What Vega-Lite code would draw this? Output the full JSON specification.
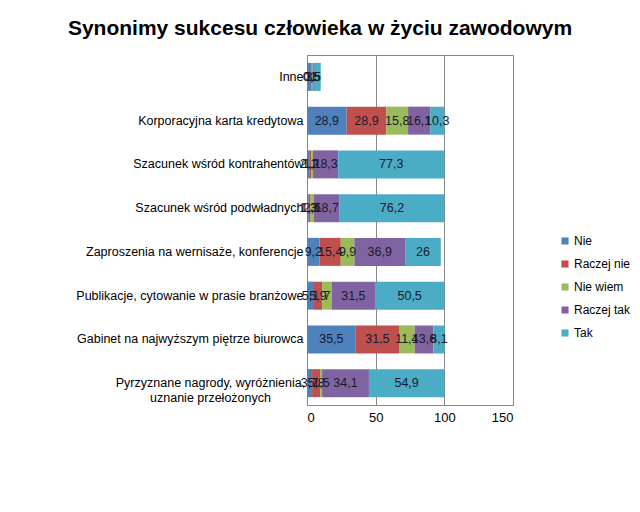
{
  "$schema": "https://vega.github.io/schema/vega-lite/v6.json",
  "autosize": {"type": "none"},
  "width": 206,
  "height": 350,
  "padding": {"left": 307, "top": 55, "right": 127, "bottom": 107},
  "background": "white",
  "title": {
    "text": "Synonimy sukcesu człowieka w życiu zawodowym",
    "fontSize": 21,
    "font": "Liberation Sans Narrow, Liberation Sans, Arial",
    "fontWeight": "bold",
    "color": "black",
    "anchor": "middle",
    "dx": -90,
    "offset": 16
  },
  "data": {
    "values": [
      {"k": "Inne", "s": "Nie", "o": 1, "v": 3},
      {"k": "Inne", "s": "Raczej nie", "o": 2, "v": 0.5},
      {"k": "Inne", "s": "Nie wiem", "o": 3, "v": 0.5},
      {"k": "Inne", "s": "Raczej tak", "o": 4, "v": 1},
      {"k": "Inne", "s": "Tak", "o": 5, "v": 5},
      {"k": "Korporacyjna karta kredytowa", "s": "Nie", "o": 1, "v": 28.9},
      {"k": "Korporacyjna karta kredytowa", "s": "Raczej nie", "o": 2, "v": 28.9},
      {"k": "Korporacyjna karta kredytowa", "s": "Nie wiem", "o": 3, "v": 15.8},
      {"k": "Korporacyjna karta kredytowa", "s": "Raczej tak", "o": 4, "v": 16.1},
      {"k": "Korporacyjna karta kredytowa", "s": "Tak", "o": 5, "v": 10.3},
      {"k": "Szacunek wśród kontrahentów", "s": "Nie", "o": 1, "v": 2.1},
      {"k": "Szacunek wśród kontrahentów", "s": "Raczej nie", "o": 2, "v": 1.2},
      {"k": "Szacunek wśród kontrahentów", "s": "Nie wiem", "o": 3, "v": 1.1},
      {"k": "Szacunek wśród kontrahentów", "s": "Raczej tak", "o": 4, "v": 18.3},
      {"k": "Szacunek wśród kontrahentów", "s": "Tak", "o": 5, "v": 77.3},
      {"k": "Szacunek wśród podwładnych", "s": "Nie", "o": 1, "v": 1.3},
      {"k": "Szacunek wśród podwładnych", "s": "Raczej nie", "o": 2, "v": 1.3},
      {"k": "Szacunek wśród podwładnych", "s": "Nie wiem", "o": 3, "v": 2.5},
      {"k": "Szacunek wśród podwładnych", "s": "Raczej tak", "o": 4, "v": 18.7},
      {"k": "Szacunek wśród podwładnych", "s": "Tak", "o": 5, "v": 76.2},
      {"k": "Zaproszenia na wernisaże, konferencje", "s": "Nie", "o": 1, "v": 9.2},
      {"k": "Zaproszenia na wernisaże, konferencje", "s": "Raczej nie", "o": 2, "v": 15.4},
      {"k": "Zaproszenia na wernisaże, konferencje", "s": "Nie wiem", "o": 3, "v": 9.9},
      {"k": "Zaproszenia na wernisaże, konferencje", "s": "Raczej tak", "o": 4, "v": 36.9},
      {"k": "Zaproszenia na wernisaże, konferencje", "s": "Tak", "o": 5, "v": 26},
      {"k": "Publikacje, cytowanie w prasie branżowe", "s": "Nie", "o": 1, "v": 5.1},
      {"k": "Publikacje, cytowanie w prasie branżowe", "s": "Raczej nie", "o": 2, "v": 5.9},
      {"k": "Publikacje, cytowanie w prasie branżowe", "s": "Nie wiem", "o": 3, "v": 7},
      {"k": "Publikacje, cytowanie w prasie branżowe", "s": "Raczej tak", "o": 4, "v": 31.5},
      {"k": "Publikacje, cytowanie w prasie branżowe", "s": "Tak", "o": 5, "v": 50.5},
      {"k": "Gabinet na najwyższym piętrze biurowca", "s": "Nie", "o": 1, "v": 35.5},
      {"k": "Gabinet na najwyższym piętrze biurowca", "s": "Raczej nie", "o": 2, "v": 31.5},
      {"k": "Gabinet na najwyższym piętrze biurowca", "s": "Nie wiem", "o": 3, "v": 11.4},
      {"k": "Gabinet na najwyższym piętrze biurowca", "s": "Raczej tak", "o": 4, "v": 13.6},
      {"k": "Gabinet na najwyższym piętrze biurowca", "s": "Tak", "o": 5, "v": 8.1},
      {"k": "Pyrzyznane nagrody, wyróżnienia,|uznanie przełożonych", "s": "Nie", "o": 1, "v": 3.7},
      {"k": "Pyrzyznane nagrody, wyróżnienia,|uznanie przełożonych", "s": "Raczej nie", "o": 2, "v": 5.8},
      {"k": "Pyrzyznane nagrody, wyróżnienia,|uznanie przełożonych", "s": "Nie wiem", "o": 3, "v": 1.5},
      {"k": "Pyrzyznane nagrody, wyróżnienia,|uznanie przełożonych", "s": "Raczej tak", "o": 4, "v": 34.1},
      {"k": "Pyrzyznane nagrody, wyróżnienia,|uznanie przełożonych", "s": "Tak", "o": 5, "v": 54.9}
    ]
  },
  "encoding": {
    "y": {
      "field": "k",
      "type": "nominal",
      "sort": null,
      "title": null,
      "scale": {"paddingInner": 0.36, "paddingOuter": 0.18},
      "axis": {
        "labelExpr": "split(datum.label, '|')",
        "labelFont": "Liberation Sans, Arial",
        "labelFontSize": 12.5,
        "labelColor": "black",
        "labelLimit": 300,
        "ticks": false,
        "domain": false,
        "labelAlign": {"condition": {"test": "indexof(datum.value, '|') >= 0", "value": "center"}, "value": "right"},
        "labelPadding": {"condition": {"test": "indexof(datum.value, '|') >= 0", "value": 97}, "value": 4}
      }
    }
  },
  "layer": [
    {
      "mark": {"type": "bar"},
      "encoding": {
        "x": {
          "field": "v",
          "type": "quantitative",
          "stack": "zero",
          "title": null,
          "scale": {"domain": [0, 150], "nice": false},
          "axis": {
            "values": [0, 50, 100, 150],
            "labelFont": "Liberation Sans, Arial",
            "labelFontSize": 13,
            "labelColor": "black",
            "ticks": false,
            "domain": false,
            "grid": true,
            "gridColor": "#888888",
            "labelPadding": 6
          }
        },
        "color": {
          "field": "s",
          "type": "nominal",
          "sort": ["Nie", "Raczej nie", "Nie wiem", "Raczej tak", "Tak"],
          "scale": {
            "domain": ["Nie", "Raczej nie", "Nie wiem", "Raczej tak", "Tak"],
            "range": ["#4F81BD", "#C0504D", "#9BBB59", "#8064A2", "#4BACC6"]
          },
          "legend": {
            "title": null,
            "orient": "none",
            "legendX": 252,
            "legendY": 180,
            "symbolType": "square",
            "symbolSize": 50,
            "symbolStrokeWidth": 0,
            "labelFont": "Liberation Sans, Arial",
            "labelFontSize": 12,
            "labelColor": "black",
            "rowPadding": 11,
            "labelOffset": 3
          }
        },
        "order": {"field": "o", "type": "quantitative"}
      }
    },
    {
      "mark": {"type": "text", "fontSize": 12.5, "font": "Liberation Sans, Arial", "color": "#1a1a2a"},
      "encoding": {
        "x": {"field": "v", "type": "quantitative", "stack": "zero", "bandPosition": 0.5},
        "text": {"field": "v", "type": "quantitative", "format": ",.1~f", "formatType": "number"},
        "order": {"field": "o", "type": "quantitative"}
      }
    }
  ],
  "config": {
    "locale": {"number": {"decimal": ",", "thousands": " ", "grouping": [3], "currency": ["", " zł"]}},
    "view": {"stroke": "#888888", "strokeWidth": 1}
  }
}
